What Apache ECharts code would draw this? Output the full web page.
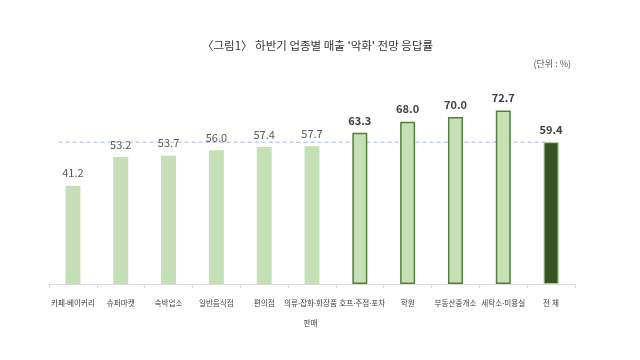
<!DOCTYPE html>
<html><head><meta charset="utf-8">
<script src="https://cdn.jsdelivr.net/npm/echarts@6/dist/echarts.min.js"></script>
<style>html,body{margin:0;padding:0;background:#fff}#c{width:640px;height:360px}</style>
</head><body><div id="c"></div>
<script>
const categories = ['카페·베이커리','슈퍼마켓','숙박업소','일반음식점','편의점','의류·잡화·화장품\n판매','호프·주점·포차','학원','부동산중개소','세탁소·미용실','전 체'];
const values = [41.2, 53.2, 53.7, 56.0, 57.4, 57.7, 63.3, 68.0, 70.0, 72.7, 59.4];
const groups = ['plain','plain','plain','plain','plain','plain','high','high','high','high','total'];
const averageValue = 59.4;
const averageLineSpan = [-0.3, 10];
const titleText = '〈그림1〉 하반기 업종별 매출 \'악화\' 전망 응답률';
const unitText = '(단위 : %)';

const font = '"Noto Sans CJK KR", "Noto Sans", sans-serif';
const labelFont = '"Noto Sans", "Noto Sans CJK KR", sans-serif';
const styles = {
  plain: {item:{color:'#c5e0b4', borderWidth:0}, label:{color:'#595959', fontWeight:'normal'}},
  high:  {item:{color:'#c5e0b4', borderColor:'#538135', borderWidth:1.5}, label:{color:'#404040', fontWeight:'bold'}},
  total: {item:{color:'#375623', borderColor:'#a9d18e', borderWidth:1}, label:{color:'#404040', fontWeight:'bold'}}
};
const data = values.map((v,i)=>({value:v, itemStyle:styles[groups[i]].item, label:styles[groups[i]].label}));
// small nudges so the two long neighbouring labels do not touch
const labelPadding = {5:[0,3,0,0], 6:[0,0,0,5]};
const axisData = categories.map((c,i)=>labelPadding[i] ? {value:c, textStyle:{padding:labelPadding[i]}} : c);

const chart = echarts.init(document.getElementById('c'), null, {renderer:'canvas'});
chart.setOption({
  animation:false,
  title:[
    {text:titleText, left:197, top:35, textStyle:{fontFamily:font, fontSize:11.5, fontWeight:'normal', color:'#333'}},
    {text:unitText, right:64, top:54, textStyle:{fontFamily:font, fontSize:9, fontWeight:'normal', color:'#595959'}}
  ],
  grid:{left:49, right:65, top:93, bottom:76},
  xAxis:[{type:'category', data:axisData,
    axisLine:{lineStyle:{color:'#d9d9d9'}},
    axisTick:{show:true, length:4, lineStyle:{color:'#d9d9d9'}},
    axisLabel:{interval:0, fontFamily:labelFont, fontSize:7.6, color:'#404040', margin:10, lineHeight:20}
  },{type:'value', min:-0.5, max:categories.length-0.5, show:false, splitLine:{show:false}}],
  yAxis:{type:'value', min:0, max:80, show:false, splitLine:{show:false}},
  series:[{
    type:'bar', data:data, barWidth:15, z:3,
    label:{show:true, position:'top', distance:7, fontFamily:font, fontSize:11, formatter:p=>p.value.toFixed(1)}
  },{
    type:'line', xAxisIndex:1, z:1, symbol:'none', silent:true,
    lineStyle:{type:[4,3], color:'#a7b9d6', width:1},
    data:averageLineSpan.map(x=>[x, averageValue])
  }]
});
</script></body></html>
